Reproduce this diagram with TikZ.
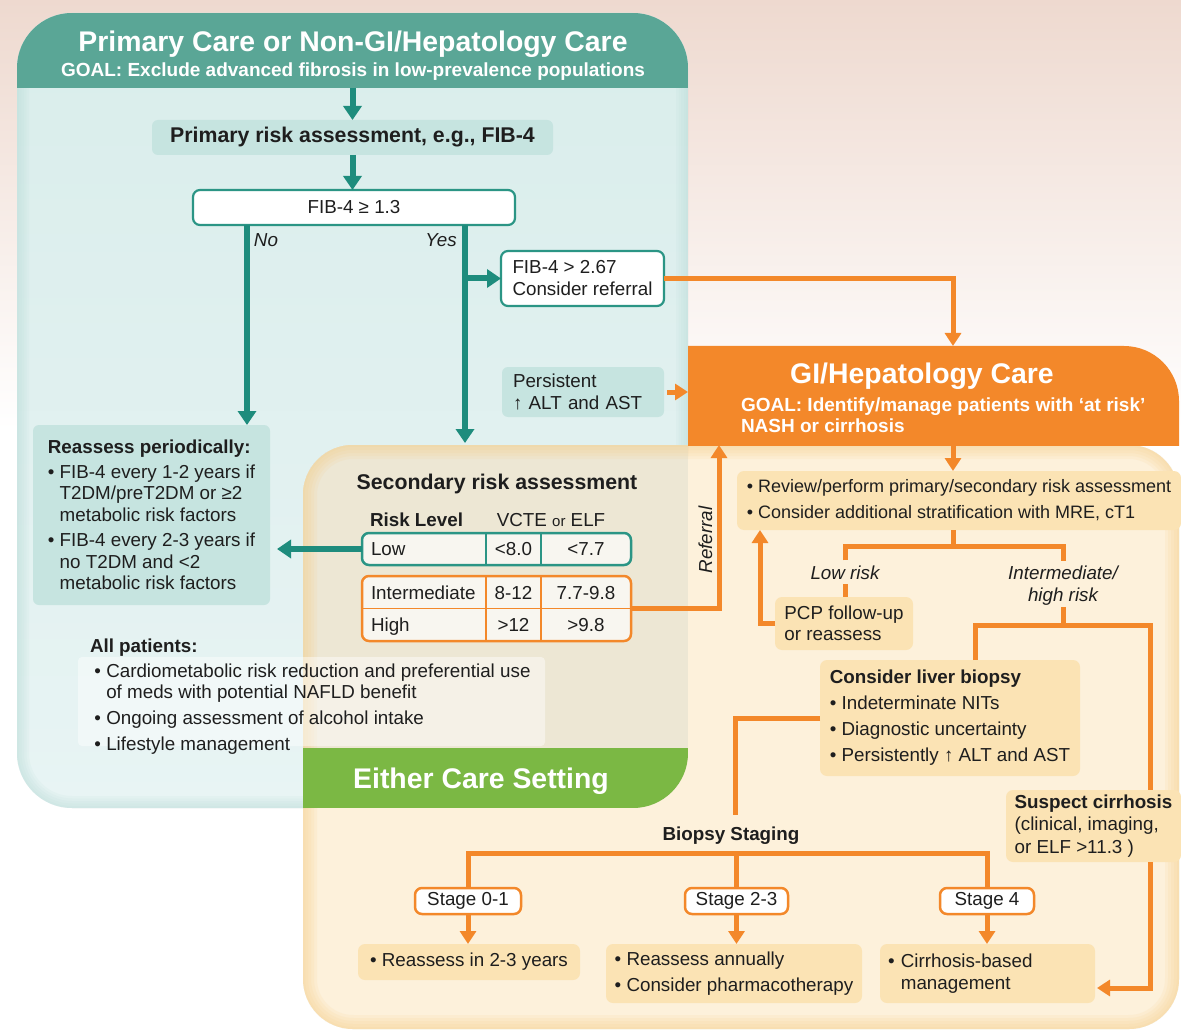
\documentclass[tikz,border=0pt]{standalone}
\usepackage{fontspec}
\setmainfont{Liberation Sans}
\usetikzlibrary{arrows.meta}
\definecolor{tealdark}{HTML}{5AA696}
\definecolor{tealarrow}{HTML}{1E8C7D}
\definecolor{tealline}{HTML}{2B9585}
\definecolor{tealbody}{HTML}{D9EDEB}
\definecolor{tealbody2}{HTML}{E8F4F4}
\definecolor{tealfill}{HTML}{C6E4E0}
\definecolor{tealedge}{HTML}{B9DDD8}
\definecolor{orng}{HTML}{F3882A}
\definecolor{cream}{HTML}{FDF1DB}
\definecolor{creamedge}{HTML}{F6D18E}
\definecolor{peach}{HTML}{FBE3B4}
\definecolor{overlapc}{HTML}{EDE7D4}
\definecolor{greenband}{HTML}{7BB844}
\definecolor{pinkbg}{HTML}{EED9CF}
\definecolor{cellfill}{HTML}{F8F6F0}
\definecolor{txt}{HTML}{1E1E1E}
\newcommand\sizeTitle{\fontsize{28.4}{32}\selectfont}
\newcommand\sizeGoal{\fontsize{19}{21}\selectfont}
\newcommand\sizeMid{\fontsize{21.3}{24}\selectfont}
\newcommand\sizeNorm{\fontsize{18.8}{22}\selectfont}
\newcommand\sizeNormB{\fontsize{18.8}{21.5}\selectfont}
\tikzset{
 every node/.style={inner sep=0pt, outer sep=0pt, text=txt},
 tbox/.style={fill=tealfill, rounded corners=6pt},
 tframe/.style={draw=tealline, line width=2.2pt, fill=white, rounded corners=7pt},
 pbox/.style={fill=peach, rounded corners=7pt},
 stagebox/.style={draw=orng, line width=2.5pt, fill=white, rounded corners=7pt, font=\sizeNorm},
 tarr/.style={draw=tealarrow, line width=6pt, -{Triangle[width=18pt,length=14pt]}},
 oarr/.style={draw=orng, line width=5pt, -{Triangle[width=16pt,length=13pt]}},
 oln/.style={draw=orng, line width=5pt},
 divider/.style={line width=1.5pt},
}
\begin{document}
\begin{tikzpicture}[x=1pt,y=-1pt]
\useasboundingbox (0,0) rectangle (1181,1032);
% background
\shade[top color=pinkbg, bottom color=white] (0,0) rectangle (1181,430);
\fill[white] (0,430) rectangle (1181,1032);
% teal panel
\begin{scope}
 \clip[rounded corners=55pt] (17,13) rectangle (688,808);
 \shade[top color=tealbody, bottom color=tealbody2] (17,13) rectangle (688,808);
 \foreach \w in {4,9,14,19,24}
  \draw[tealedge, line width=\w pt, opacity=.12, rounded corners=55pt] (17,13) rectangle (688,808);
 \fill[tealdark] (17,13) rectangle (688,88);
\end{scope}
% cream panel
\fill[cream, rounded corners=50pt] (303,445) rectangle (1179,1029);
\begin{scope}
 \clip[rounded corners=50pt] (303,445) rectangle (1179,1029);
 \foreach \w in {4,10,16,22,28}
  \draw[creamedge, line width=\w pt, opacity=.14, rounded corners=50pt] (303,445) rectangle (1179,1029);
\end{scope}
% overlap
\begin{scope}
 \clip[rounded corners=55pt] (17,13) rectangle (688,808);
 \clip[rounded corners=50pt] (303,445) rectangle (1179,1029);
 \fill[overlapc] (303,445) rectangle (688,808);
 \foreach \w in {4,10,16,22,28}
  \draw[creamedge, line width=\w pt, opacity=.14, rounded corners=50pt] (303,445) rectangle (1179,1029);
 \fill[greenband] (303,748) rectangle (688,808);
\end{scope}
% orange header
\begin{scope}
 \clip (688,346) rectangle (1181,445);
 \fill[orng, rounded corners=55pt] (600,346) rectangle (1179,640);
\end{scope}
% soft highlight behind "All patients" list
\fill[white, opacity=.45, rounded corners=4pt] (78,657) rectangle (545,746);

% coordinates
\coordinate (hdrBot) at (352.5,88);
\coordinate (noX) at (247,0);
\coordinate (yesX) at (465,0);
\coordinate (secTop) at (465,443);
\coordinate (giTop) at (953,346);
\coordinate (giLeft) at (688,0);
\coordinate (giBot) at (719,445);
\coordinate (splitC) at (953,546);
\coordinate (retX) at (760,0);
\coordinate (split2C) at (1063,625);
\coordinate (bioX) at (975,0);
\coordinate (susX) at (1150,0);
\coordinate (bioEnd) at (735,815);
\coordinate (brkC) at (737,853);
\coordinate (r3in) at (1097,988);
\coordinate (colA) at (486,0);
\coordinate (colB) at (541,0);

% teal header texts
\node[font=\sizeTitle\bfseries, text=white, anchor=base] (titleP) at (353,52) {Primary Care or Non-GI/Hepatology Care};
\node[font=\sizeGoal\bfseries, text=white, anchor=base] (goalP) at (353,77) {GOAL: Exclude advanced fibrosis in low-prevalence populations};

\node[tbox, minimum width=401pt, minimum height=35pt, font=\sizeMid\bfseries] (prim) at (352.5,137.5) {Primary risk assessment, e.g., FIB-4};
\node[tframe, minimum width=322pt, minimum height=35pt, font=\sizeNorm] (fib) at (354,207.5) {FIB-4 ≥ 1.3};
\node[font=\sizeNorm\itshape, anchor=base] (nolbl) at (266,247) {No};
\node[font=\sizeNorm\itshape, anchor=base] (yeslbl) at (441,247) {Yes};
\node[tframe, minimum width=163pt, minimum height=55pt, font=\sizeNorm, align=left] (refbox) at (582.5,278.5) {FIB-4 > 2.67\\Consider referral};
\node[tbox, minimum width=162pt, minimum height=50pt, font=\sizeNorm, align=left, text width=140pt, inner xsep=11pt] (persist) at (583,392) {Persistent\\↑ ALT and AST};

\node[tbox, minimum width=237pt, minimum height=180pt, font=\sizeNormB, align=left] (reassess) at (151.5,515) {\textbf{Reassess periodically:}\\[3pt]
\textbullet\ FIB-4 every 1-2 years if\\
\phantom{\textbullet\ }T2DM/preT2DM or ≥2\\
\phantom{\textbullet\ }metabolic risk factors\\[4pt]
\textbullet\ FIB-4 every 2-3 years if\\
\phantom{\textbullet\ }no T2DM and <2\\
\phantom{\textbullet\ }metabolic risk factors};

% secondary risk assessment
\node[font=\sizeMid\bfseries, anchor=base] (sectitle) at (497,489) {Secondary risk assessment};
\node[font=\sizeNorm\bfseries, anchor=base west] (rlhead) at (370,526) {Risk Level};
\node[font=\sizeNorm, anchor=base] (vehead) at (551,526) {VCTE {\fontsize{15}{15}\selectfont or} ELF};
\node[draw=tealline, line width=2.5pt, fill=cellfill, rounded corners=7pt, minimum width=269pt, minimum height=32pt] (lowrow) at (496.5,549) {};
\node[draw=orng, line width=2.5pt, fill=cellfill, rounded corners=7pt, minimum width=269pt, minimum height=65pt] (ihrow) at (496.5,608.5) {};
\draw[tealline, divider] (colA |- lowrow.north) -- (colA |- lowrow.south);
\draw[tealline, divider] (colB |- lowrow.north) -- (colB |- lowrow.south);
\draw[orng, divider] (colA |- ihrow.north) -- (colA |- ihrow.south);
\draw[orng, divider] (colB |- ihrow.north) -- (colB |- ihrow.south);
\draw[orng, divider] (ihrow.west) -- (ihrow.east);
\node[font=\sizeNorm, anchor=base west] (c11) at (371,555) {Low};
\node[font=\sizeNorm, anchor=base] (c12) at (513.5,555) {<8.0};
\node[font=\sizeNorm, anchor=base] (c13) at (586,555) {<7.7};
\node[font=\sizeNorm, anchor=base west] (c21) at (371,599) {Intermediate};
\node[font=\sizeNorm, anchor=base] (c22) at (513.5,599) {8-12};
\node[font=\sizeNorm, anchor=base] (c23) at (586,599) {7.7-9.8};
\node[font=\sizeNorm, anchor=base west] (c31) at (371,631) {High};
\node[font=\sizeNorm, anchor=base] (c32) at (513.5,631) {>12};
\node[font=\sizeNorm, anchor=base] (c33) at (586,631) {>9.8};

% all patients
\node[font=\sizeNorm\bfseries, anchor=base west] (allt) at (90,652) {All patients:};
\node[font=\fontsize{18.8}{21}\selectfont, align=left] (allp) at (312.5,709) {\textbullet\ Cardiometabolic risk reduction and preferential use\\
\phantom{\textbullet}\ of meds with potential NAFLD benefit\\[5pt]
\textbullet\ Ongoing assessment of alcohol intake\\[5pt]
\textbullet\ Lifestyle management};

\node[font=\sizeTitle\bfseries, text=white, anchor=base] (either) at (481,788) {Either Care Setting};

% GI header
\node[font=\sizeTitle\bfseries, text=white, anchor=base] (giTitle) at (922,384) {GI/Hepatology Care};
\node[font=\sizeGoal\bfseries, text=white, anchor=north west, align=left] (giGoal) at (741,397.5) {GOAL: Identify/manage patients with ‘at risk’\\NASH or cirrhosis};

\node[font=\sizeNorm\itshape, anchor=base, rotate=90] (reflbl) at (712,540) {Referral};

% right side
\node[pbox, minimum width=444pt, minimum height=59pt, font=\fontsize{18}{22}\selectfont, align=left] (review) at (959,500.5) {\textbullet\ Review/perform primary/secondary risk assessment\\[4pt]\textbullet\ Consider additional stratification with MRE, cT1};
\node[font=\sizeNorm\itshape, anchor=base, inner ysep=5pt] (lowlbl) at (845,579) {Low risk};
\node[font=\sizeNorm\itshape, align=center, inner ysep=5pt, text depth=0pt] (hilbl) at (1063,584) {Intermediate/\\high risk};
\node[pbox, minimum width=138pt, minimum height=53pt, font=\fontsize{18.8}{21}\selectfont, align=left] (pcp) at (844,623.5) {PCP follow-up\\or reassess};
\node[pbox, minimum width=260pt, minimum height=116pt, font=\sizeNorm, align=left] (biopsy) at (950,718) {\textbf{Consider liver biopsy}\\[4pt]\textbullet\ Indeterminate NITs\\[4pt]\textbullet\ Diagnostic uncertainty\\[4pt]\textbullet\ Persistently ↑ ALT and AST};
\node[pbox, minimum width=175pt, minimum height=72pt, font=\fontsize{18.8}{22.5}\selectfont, align=left] (suspect) at (1093.5,826) {\textbf{Suspect cirrhosis}\\(clinical, imaging,\\or ELF >11.3 )};
\node[font=\sizeNorm\bfseries, anchor=base] (biolbl) at (731,840) {Biopsy Staging};

\node[stagebox, minimum width=106pt, minimum height=26pt] (st01) at (468,901) {Stage 0-1};
\node[stagebox, minimum width=103pt, minimum height=26pt] (st23) at (736.5,901) {Stage 2-3};
\node[stagebox, minimum width=94pt, minimum height=26pt] (st4) at (987,901) {Stage 4};

\node[pbox, minimum width=222pt, minimum height=36pt, font=\sizeNorm, align=left] (r1) at (469,962) {\textbullet\ Reassess in 2-3 years};
\node[pbox, minimum width=256pt, minimum height=59pt, font=\sizeNorm, align=left] (r2) at (734,973.5) {\textbullet\ Reassess annually\\[4pt]\textbullet\ Consider pharmacotherapy};
\node[pbox, minimum width=215pt, minimum height=59pt, font=\sizeNorm, align=left, text width=199pt, inner xsep=8pt] (r3) at (987.5,973.5) {\textbullet\ Cirrhosis-based\\\phantom{\textbullet\ }management};

% teal connectors
\draw[tarr] (hdrBot) -- (prim.north);
\draw[tarr] (prim.south) -- (prim.south |- fib.north);
\draw[tarr] (fib.south -| noX) -- (reassess.north -| noX);
\draw[tarr] (fib.south -| yesX) -- (secTop);
\draw[tarr] (refbox.west -| yesX) -- (refbox.west);
\draw[tarr, shorten >=7pt] (lowrow.west) -- (lowrow.west -| reassess.east);

% orange connectors
\draw[oarr] (refbox.east) -| (giTop);
\draw[oarr, shorten <=3pt] (persist.east) -- (persist.east -| giLeft);
\draw[oarr] (ihrow.east) -| (giBot);
\draw[oarr] (giTop |- giBot) -- (review.north -| giTop);
\draw[oln] (review.south -| splitC) -- (splitC);
\draw[oln] (lowlbl.north) |- (splitC) -| (hilbl.north);
\draw[oln] (lowlbl.south) -- (lowlbl.south |- pcp.north);
\draw[oarr] (pcp.west) -| (review.south -| retX);
\draw[oln] (hilbl.south) -- (split2C);
\draw[oln] (biopsy.north -| bioX) |- (split2C) -| (suspect.north -| susX);
\draw[oln] (biopsy.west) -| (bioEnd);
\draw[oln] (st01.north) |- (brkC) -| (st4.north);
\draw[oln] (st23.north) -- (st23.north |- brkC);
\draw[oarr] (st01.south) -- (st01.south |- r1.north);
\draw[oarr] (st23.south) -- (st23.south |- r2.north);
\draw[oarr] (st4.south) -- (st4.south |- r3.north);
\draw[oarr] (suspect.south -| susX) |- (r3in);
\end{tikzpicture}
\end{document}
